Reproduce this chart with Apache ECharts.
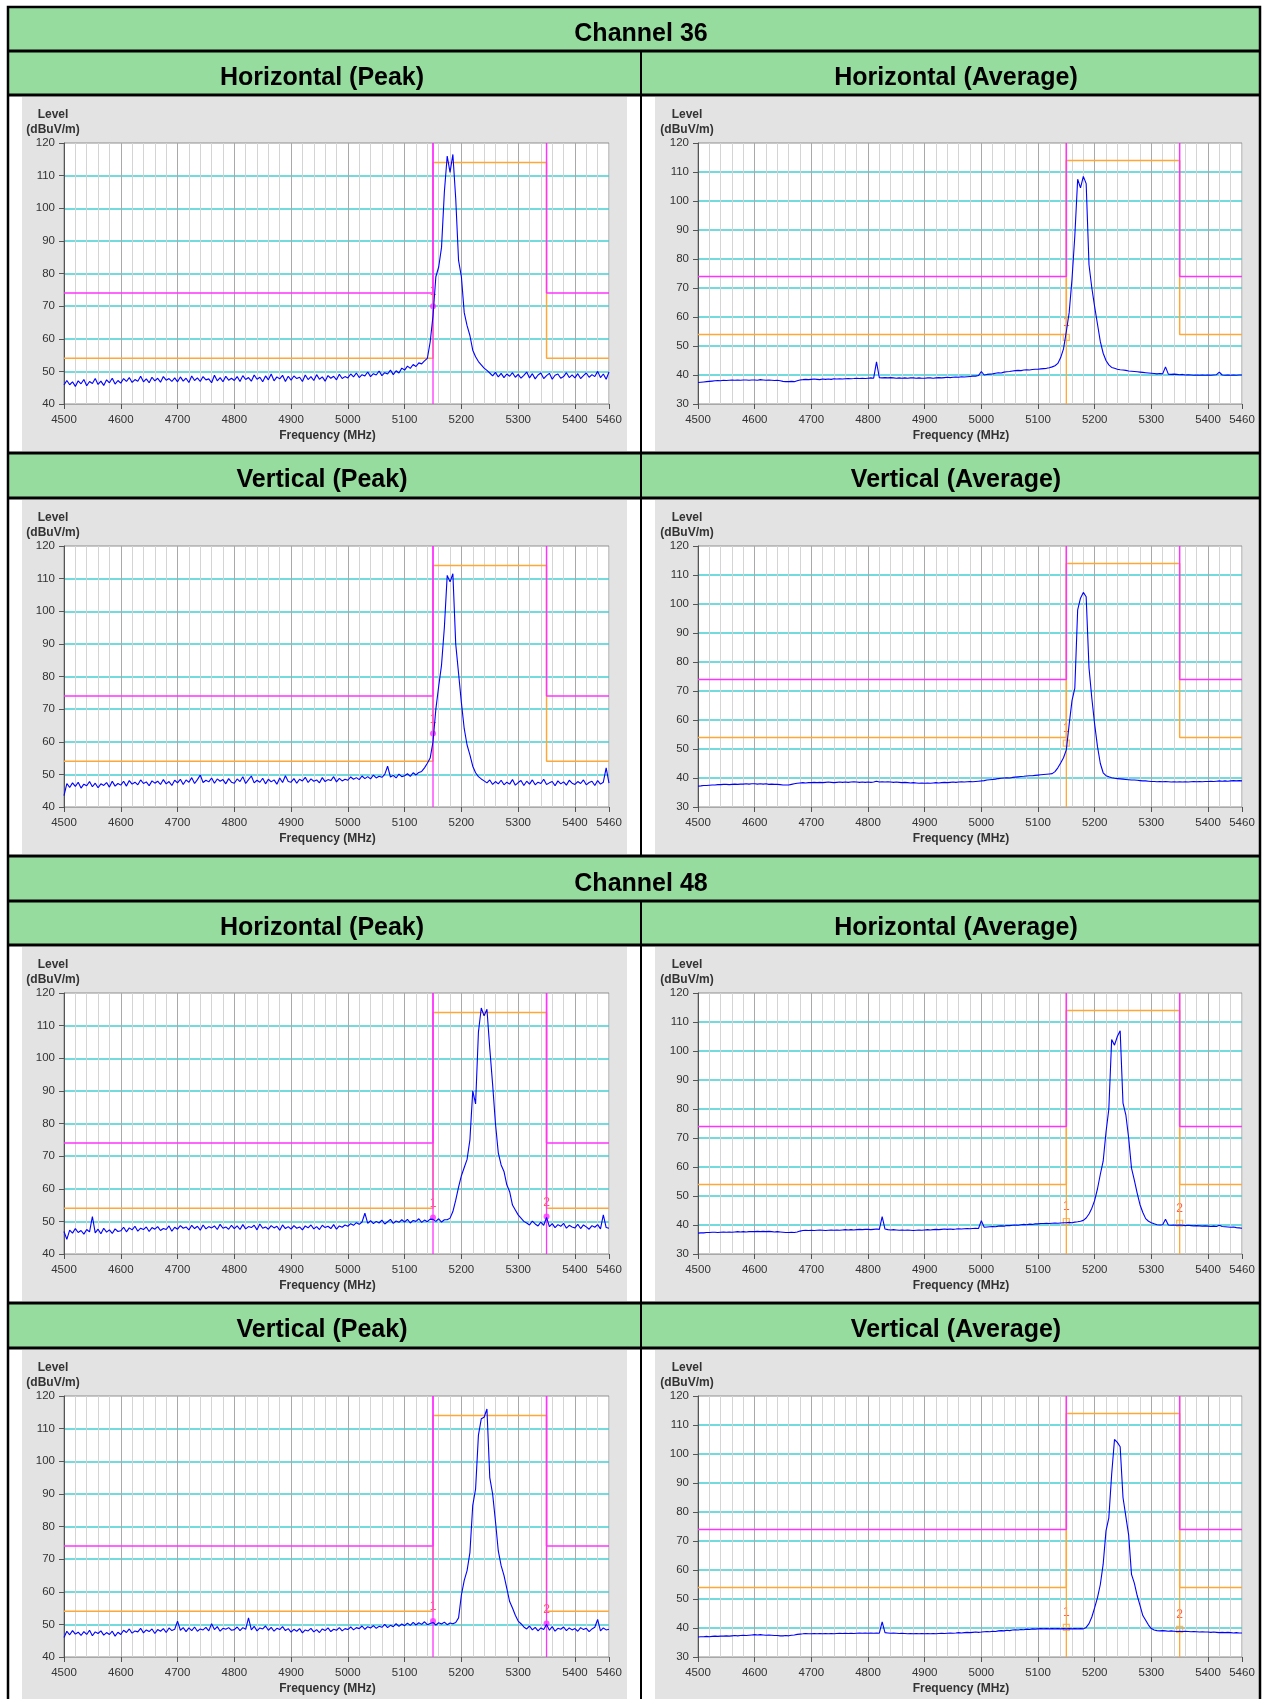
<!DOCTYPE html>
<html>
<head>
<meta charset="utf-8">
<title>Band edge plots - Channel 36 / Channel 48</title>
<script src="https://cdn.jsdelivr.net/npm/echarts@6.0.0/dist/echarts.min.js"></script>
<style>
html,body{margin:0;padding:0;background:#ffffff;}
#chart{width:1263px;height:1699px;}
</style>
</head>
<body>
<div id="chart"></div>
<script>
// ===================== DATA =====================
// Frequency sampling grid (MHz), 5 MHz steps
const FREQ = [
4500,4505,4510,4515,4520,4525,4530,4535,4540,4545,4550,4555,4560,4565,4570,4575,4580,4585,4590,4595,
4600,4605,4610,4615,4620,4625,4630,4635,4640,4645,4650,4655,4660,4665,4670,4675,4680,4685,4690,4695,
4700,4705,4710,4715,4720,4725,4730,4735,4740,4745,4750,4755,4760,4765,4770,4775,4780,4785,4790,4795,
4800,4805,4810,4815,4820,4825,4830,4835,4840,4845,4850,4855,4860,4865,4870,4875,4880,4885,4890,4895,
4900,4905,4910,4915,4920,4925,4930,4935,4940,4945,4950,4955,4960,4965,4970,4975,4980,4985,4990,4995,
5000,5005,5010,5015,5020,5025,5030,5035,5040,5045,5050,5055,5060,5065,5070,5075,5080,5085,5090,5095,
5100,5105,5110,5115,5120,5125,5130,5135,5140,5145,5150,5155,5160,5165,5170,5175,5180,5185,5190,5195,
5200,5205,5210,5215,5220,5225,5230,5235,5240,5245,5250,5255,5260,5265,5270,5275,5280,5285,5290,5295,
5300,5305,5310,5315,5320,5325,5330,5335,5340,5345,5350,5355,5360,5365,5370,5375,5380,5385,5390,5395,
5400,5405,5410,5415,5420,5425,5430,5435,5440,5445,5450,5455,5460
];

// Channel 36 - Horizontal (Peak), dBuV/m
const ch36HorPeak = [
45.8,47.2,45.9,46.8,45.4,47.1,46.2,47.5,45.6,46.9,46.3,47.8,46.0,47.0,45.7,47.4,46.5,47.9,46.1,47.2,
46.4,47.8,46.9,48.1,46.6,47.5,47.0,48.5,46.8,47.7,46.5,48.2,47.1,47.9,46.7,48.4,47.3,47.8,46.9,48.0,
46.8,48.3,47.0,47.9,46.6,48.6,47.2,48.0,46.9,48.4,47.4,47.7,46.5,48.8,47.1,48.1,46.8,48.5,47.3,47.9,
47.2,48.4,46.9,48.7,47.5,48.1,47.0,48.9,47.6,48.2,46.8,48.6,47.4,49.2,47.1,48.3,47.7,48.8,46.9,48.5,
47.3,48.6,47.8,48.2,46.9,48.9,47.5,48.4,47.2,49.0,47.6,48.3,47.0,48.7,47.9,48.5,47.4,49.1,47.8,48.4,
48.0,49.2,48.3,49.5,48.1,49.0,48.6,49.8,48.4,49.3,48.9,50.1,48.7,49.6,49.2,50.4,49.0,50.2,49.5,51.0,
50.4,51.6,50.9,52.1,51.5,52.6,52.3,53.2,54.0,59.0,67.0,79.0,82.0,88.0,105.0,116.0,111.0,116.5,103.0,84.0,
79.0,68.0,64.0,61.0,56.5,54.5,53.0,52.0,51.0,50.3,49.5,48.6,49.7,48.3,49.4,48.1,49.2,48.5,49.6,48.2,
49.1,47.9,48.8,49.8,48.0,49.3,47.7,48.9,49.5,47.8,48.7,49.4,47.6,48.8,49.2,47.9,48.4,49.6,48.1,48.9,
48.0,49.3,47.8,48.7,49.5,48.2,49.0,48.4,50.0,48.1,49.2,47.6,49.8
];

// Channel 36 - Horizontal (Average)
const ch36HorAvg = [
37.4,37.5,37.6,37.7,37.8,37.9,38.0,38.1,38.0,38.2,38.1,38.2,38.3,38.2,38.3,38.2,38.3,38.3,38.2,38.3,
38.3,38.2,38.4,38.3,38.2,38.3,38.2,38.1,38.2,38.0,37.8,37.7,37.7,37.8,37.7,38.0,38.3,38.4,38.5,38.4,
38.5,38.6,38.5,38.4,38.6,38.5,38.6,38.5,38.7,38.6,38.7,38.6,38.7,38.8,38.7,38.8,38.9,38.8,38.9,38.8,
38.9,39.0,38.9,44.5,39.1,39.0,39.1,39.0,39.1,39.0,38.9,39.0,38.9,39.0,38.9,39.0,39.0,38.9,39.0,38.9,
38.9,39.0,39.0,38.9,39.0,39.1,39.0,39.1,39.2,39.1,39.2,39.3,39.2,39.4,39.3,39.4,39.5,39.6,39.6,39.8,
41.2,40.0,40.2,40.3,40.4,40.6,40.8,40.7,41.0,41.1,41.2,41.4,41.5,41.6,41.5,41.7,41.8,41.7,41.9,42.0,
42.0,42.1,42.2,42.3,42.5,42.8,43.2,44.0,46.0,49.0,55.0,61.5,73.0,88.0,107.5,104.5,108.5,106.0,78.0,70.0,
63.5,57.5,51.5,47.5,45.0,43.5,42.6,42.3,42.0,41.8,41.7,41.6,41.4,41.3,41.2,41.1,41.0,40.9,40.8,40.7,
40.6,40.5,40.4,40.5,40.4,42.8,40.3,40.2,40.3,40.2,40.1,40.2,40.0,40.1,40.0,39.9,40.0,39.9,40.0,39.9,
40.0,39.9,40.0,40.1,41.0,40.0,39.9,40.0,39.9,40.0,39.9,40.0,40.0
];

// Channel 36 - Vertical (Peak)
const ch36VerPeak = [
43.5,47.2,46.0,47.4,46.3,47.6,45.8,47.0,46.5,47.8,46.2,47.3,45.9,47.1,46.6,47.5,46.1,47.9,46.4,47.2,
46.7,47.9,46.4,48.1,47.0,47.6,46.8,48.3,47.2,47.7,46.5,48.0,47.3,47.9,46.9,48.4,47.1,47.8,46.6,48.2,
47.4,48.5,46.9,48.3,47.6,49.0,47.2,48.4,49.8,47.5,48.2,47.7,48.9,47.3,48.6,47.9,48.4,47.1,48.7,47.6,
47.3,48.6,47.8,49.3,47.2,48.4,49.5,47.4,48.2,47.6,48.8,47.1,48.5,47.7,48.3,47.0,48.9,47.5,49.6,47.8,
47.6,48.7,47.3,48.5,48.0,49.1,47.5,48.6,47.9,48.3,47.4,49.0,47.8,48.4,48.1,49.3,47.7,48.8,48.0,48.5,
48.2,49.2,48.5,49.0,48.4,49.5,48.7,49.3,48.6,49.8,48.9,49.4,49.1,50.0,52.5,49.2,49.7,48.9,50.1,49.3,
49.6,50.2,49.4,50.5,49.8,50.6,50.9,52.0,53.4,55.0,60.0,70.0,77.0,83.5,95.0,111.0,109.0,111.5,90.0,81.0,
72.0,64.0,59.0,56.0,52.5,50.5,49.3,48.6,48.0,47.4,48.3,46.9,47.8,47.1,48.2,46.8,47.6,47.0,48.4,46.7,
47.5,48.1,46.6,47.9,47.0,48.3,46.8,47.6,47.2,48.5,46.9,47.4,47.8,46.5,48.0,47.1,47.7,46.7,48.2,47.3,
46.9,47.8,47.2,48.3,46.8,47.5,47.9,46.6,48.1,47.0,47.6,52.0,47.3
];

// Channel 36 - Vertical (Average)
const ch36VerAvg = [
37.2,37.3,37.4,37.4,37.5,37.6,37.6,37.7,37.7,37.8,37.8,37.7,37.8,37.9,37.8,37.9,37.9,38.0,37.9,38.0,
38.0,37.9,38.0,37.9,38.0,37.8,37.9,37.8,37.8,37.7,37.6,37.6,37.6,37.8,38.0,38.2,38.3,38.4,38.3,38.4,
38.4,38.5,38.4,38.5,38.4,38.5,38.6,38.5,38.4,38.5,38.6,38.5,38.6,38.5,38.6,38.7,38.6,38.5,38.6,38.5,
38.6,38.5,38.6,38.9,38.6,38.7,38.6,38.7,38.6,38.5,38.6,38.5,38.4,38.5,38.4,38.3,38.4,38.3,38.2,38.3,
38.2,38.3,38.2,38.3,38.4,38.3,38.4,38.5,38.4,38.5,38.6,38.5,38.6,38.7,38.6,38.7,38.8,38.7,38.8,38.9,
39.0,39.1,39.3,39.4,39.5,39.6,39.8,39.9,40.0,40.1,40.0,40.2,40.3,40.4,40.5,40.6,40.7,40.8,40.8,40.9,
41.0,41.1,41.2,41.3,41.4,41.5,42.2,43.5,45.2,47.0,49.7,58.5,66.7,71.0,98.0,102.0,104.0,102.5,78.0,67.5,
58.5,50.8,45.0,41.8,40.8,40.4,40.1,39.9,39.8,39.7,39.6,39.5,39.4,39.3,39.3,39.2,39.1,39.0,39.0,38.9,
38.8,38.8,38.7,38.8,38.7,38.8,38.7,38.6,38.7,38.6,38.7,38.6,38.7,38.6,38.7,38.8,38.7,38.8,38.7,38.8,
38.8,38.9,38.8,38.9,39.0,38.9,39.0,38.9,39.0,39.1,39.0,39.1,39.0
];

// Channel 48 - Horizontal (Peak)
const ch48HorPeak = [
46.9,44.5,47.3,46.4,47.8,46.6,47.2,46.1,47.5,46.8,51.5,46.5,47.6,46.2,47.9,46.7,47.4,46.3,47.7,46.9,
47.1,48.2,46.8,48.0,47.4,48.5,47.0,47.9,47.5,48.3,46.9,48.1,47.6,48.4,47.2,47.8,47.5,48.6,47.0,48.2,
47.6,48.7,47.9,48.3,47.4,48.8,47.8,48.5,47.3,48.9,47.7,48.4,48.0,48.6,47.5,49.1,47.9,48.3,47.6,48.8,
47.8,48.6,47.5,49.0,47.7,48.4,48.1,48.8,47.4,49.2,47.9,48.3,47.6,48.7,48.0,48.5,47.3,48.9,47.8,48.4,
47.6,48.7,47.9,48.3,47.4,48.6,48.0,48.9,47.7,48.4,47.5,48.8,48.1,48.5,47.8,49.0,47.6,48.6,48.2,48.9,
48.5,49.3,48.8,49.6,49.1,49.8,52.5,49.4,50.2,49.3,50.0,49.5,50.4,49.2,49.9,50.6,49.4,50.1,49.7,50.5,
49.8,50.6,49.5,50.3,50.0,50.8,49.7,50.4,49.9,50.7,50.6,50.0,50.8,49.8,50.5,50.5,51.0,53.0,56.5,60.5,
64.0,66.5,69.0,75.0,90.0,86.0,108.0,115.4,113.0,115.0,103.0,92.0,80.0,71.0,67.3,65.3,61.2,59.1,55.0,53.5,
52.0,51.0,50.0,49.5,48.9,50.1,49.2,48.6,49.8,48.8,51.2,48.4,49.3,48.1,49.0,48.5,49.4,47.9,48.8,48.3,
48.0,49.1,47.8,48.9,48.3,47.6,48.7,48.2,49.0,47.7,52.0,48.1,47.9
];

// Channel 48 - Horizontal (Average)
const ch48HorAvg = [
37.2,37.3,37.3,37.4,37.4,37.5,37.5,37.4,37.5,37.6,37.5,37.6,37.5,37.6,37.7,37.6,37.7,37.6,37.7,37.7,
37.7,37.8,37.7,37.8,37.7,37.8,37.7,37.6,37.7,37.6,37.5,37.4,37.4,37.5,37.4,37.6,37.9,38.1,38.2,38.1,
38.2,38.1,38.2,38.3,38.2,38.1,38.2,38.3,38.2,38.3,38.2,38.3,38.4,38.3,38.4,38.3,38.4,38.5,38.4,38.5,
38.5,38.4,38.5,38.6,38.5,42.9,38.6,38.4,38.3,38.4,38.3,38.2,38.3,38.2,38.3,38.2,38.1,38.2,38.3,38.2,
38.3,38.4,38.3,38.4,38.5,38.4,38.5,38.6,38.5,38.6,38.5,38.6,38.7,38.6,38.7,38.8,38.7,38.8,38.9,38.8,
41.5,39.2,39.3,39.4,39.5,39.4,39.6,39.7,39.6,39.8,39.8,39.9,40.0,39.9,40.1,40.2,40.1,40.3,40.2,40.4,
40.4,40.5,40.5,40.6,40.5,40.6,40.7,40.6,40.7,40.8,40.8,40.9,40.8,41.0,41.1,41.3,41.6,42.4,43.8,45.8,
48.5,52.5,57.5,62.0,72.0,80.0,104.0,102.0,105.0,107.0,82.0,78.0,70.0,59.6,55.5,51.0,47.0,44.3,42.2,41.3,
40.8,40.4,40.1,40.0,40.1,42.0,40.0,39.9,40.0,39.9,40.0,39.9,39.8,39.9,39.8,39.7,39.8,39.7,39.6,39.7,
39.6,39.5,39.6,39.5,39.9,39.5,39.4,39.3,39.2,39.3,39.1,39.0,38.9
];

// Channel 48 - Vertical (Peak)
const ch48VerPeak = [
46.0,47.9,46.8,48.1,47.0,47.6,46.6,47.8,46.9,48.2,46.5,47.7,47.2,48.0,46.7,47.5,46.9,47.9,46.4,47.6,
46.9,48.2,47.5,48.6,47.3,48.0,47.7,48.8,47.4,48.3,47.8,48.6,47.2,48.4,47.9,48.7,47.5,48.9,48.1,48.5,
51.0,48.2,49.0,47.8,48.9,48.1,49.2,47.9,48.6,48.3,49.1,48.0,50.2,48.4,49.3,47.9,48.8,48.5,49.0,48.2,
48.4,49.2,48.1,49.0,48.5,52.0,48.3,49.4,48.0,48.9,48.6,49.5,48.2,49.1,47.9,48.8,48.4,49.3,48.1,48.7,
47.6,48.5,47.9,48.7,47.4,48.3,48.0,48.8,47.7,48.4,47.5,48.6,48.1,48.9,47.8,48.5,48.2,49.0,48.0,48.7,
48.4,49.2,48.3,49.0,48.7,49.5,48.5,49.3,48.9,49.6,48.8,49.4,49.1,50.0,49.0,49.7,49.3,50.2,49.4,50.1,
49.6,50.4,49.7,50.6,49.8,50.5,50.0,50.8,49.9,50.3,50.6,49.8,50.5,50.1,50.7,49.9,50.4,50.2,50.6,52.0,
59.0,63.5,66.5,72.0,86.5,91.5,108.0,113.0,113.5,116.0,95.0,90.0,81.6,72.5,68.0,65.0,61.0,57.0,55.0,52.8,
51.0,50.2,49.2,48.6,49.5,48.3,49.1,48.0,48.9,48.4,50.0,48.2,49.3,47.9,48.8,48.5,49.2,48.1,48.9,48.3,
48.7,47.9,49.0,48.4,48.8,47.8,48.6,49.1,51.5,48.0,48.9,48.3,48.5
];

// Channel 48 - Vertical (Average)
const ch48VerAvg = [
36.9,37.0,37.0,37.1,37.0,37.1,37.2,37.1,37.2,37.2,37.3,37.2,37.3,37.4,37.3,37.4,37.5,37.4,37.5,37.6,
37.7,37.6,37.7,37.6,37.5,37.6,37.5,37.4,37.4,37.3,37.3,37.4,37.3,37.5,37.6,37.8,37.9,38.0,38.1,38.0,
38.0,38.1,38.0,38.1,38.0,38.1,38.0,38.1,38.0,38.1,38.2,38.1,38.2,38.1,38.2,38.1,38.2,38.3,38.2,38.3,
38.2,38.3,38.2,38.3,38.2,42.1,38.4,38.3,38.2,38.3,38.2,38.1,38.2,38.1,38.0,38.1,38.0,38.1,38.0,38.1,
38.0,38.1,38.0,38.1,38.0,38.1,38.2,38.1,38.2,38.3,38.2,38.3,38.4,38.3,38.4,38.5,38.4,38.5,38.6,38.5,
38.6,38.7,38.8,38.7,38.9,38.8,39.0,39.1,39.0,39.2,39.1,39.3,39.4,39.3,39.5,39.4,39.6,39.5,39.7,39.6,
39.7,39.8,39.7,39.8,39.7,39.8,39.7,39.8,39.7,39.8,39.7,39.8,39.7,39.8,39.7,39.8,39.7,40.2,41.5,43.8,
47.0,50.5,55.0,62.0,73.5,78.0,93.0,105.0,104.0,102.5,85.0,78.5,72.0,58.5,55.5,51.2,47.8,44.3,42.7,41.0,
39.8,39.3,39.1,39.0,39.1,39.0,38.9,39.0,38.9,38.8,38.9,38.8,38.9,38.8,38.7,38.8,38.7,38.6,38.7,38.6,
38.6,38.5,38.6,38.5,38.4,38.5,38.4,38.5,38.4,38.3,38.4,38.3,38.3
];

// Markers [frequency MHz, level dBuV/m]
const mk36HorPeak = [[5150, 70.0]];
const mk36HorAvg  = [[5150, 53.0]];
const mk36VerPeak = [[5150, 62.5]];
const mk36VerAvg  = [[5150, 52.0]];
const mk48HorPeak = [[5150, 51.2], [5350, 51.5]];
const mk48HorAvg  = [[5150, 41.2], [5350, 40.6]];
const mk48VerPeak = [[5150, 51.0], [5350, 50.3]];
const mk48VerAvg  = [[5150, 40.2], [5350, 39.5]];

// Limit lines
const PEAK_LIMIT_LOW  = [[4500, 74], [5150, 74], [5150, 120]];
const PEAK_LIMIT_HIGH = [[5350, 120], [5350, 74], [5460, 74]];
const AVG_LIMIT = [[4500, 54], [5150, 54], [5150, 114], [5350, 114], [5350, 54], [5460, 54]];

// Axis ticks
const X_TICKS = [4500, 4600, 4700, 4800, 4900, 5000, 5100, 5200, 5300, 5400, 5460];
const Y_MIN_PEAK = 40, Y_MIN_AVG = 30, Y_MAX = 120;

// Titles
const CHANNEL_TITLES = ['Channel 36', 'Channel 48'];
const COLUMN_TITLES = [['Horizontal (Peak)', 'Horizontal (Average)'], ['Vertical (Peak)', 'Vertical (Average)']];

const PANELS = [
  {row: 0, col: 0, kind: 'peak', data: ch36HorPeak, markers: mk36HorPeak},
  {row: 0, col: 1, kind: 'avg',  data: ch36HorAvg,  markers: mk36HorAvg},
  {row: 1, col: 0, kind: 'peak', data: ch36VerPeak, markers: mk36VerPeak},
  {row: 1, col: 1, kind: 'avg',  data: ch36VerAvg,  markers: mk36VerAvg},
  {row: 2, col: 0, kind: 'peak', data: ch48HorPeak, markers: mk48HorPeak},
  {row: 2, col: 1, kind: 'avg',  data: ch48HorAvg,  markers: mk48HorAvg},
  {row: 3, col: 0, kind: 'peak', data: ch48VerPeak, markers: mk48VerPeak},
  {row: 3, col: 1, kind: 'avg',  data: ch48VerAvg,  markers: mk48VerAvg}
];

// ===================== STYLE / LAYOUT =====================
const FONT = '"Liberation Sans", Arial, Helvetica, sans-serif';
const BLUE = '#0000ff', MAGENTA = '#ff33ff', ORANGE = '#ffa838', CYAN = '#45cfd2', MARK_RED = '#ff3030';
const GREEN = '#96dc9e', PANEL_BG = '#e3e3e3';
const V_GRID_COLORS = ['#a9a9a9', '#d4d4d4', '#d4d4d4', '#d4d4d4', '#d4d4d4'];

const TABLE_L = 8, TABLE_R = 1260, COL_SPLIT = 641;
const ROW_TOPS = [95, 498, 945, 1348];
const PLOT_LEFT = [64, 698], PLOT_WIDTH = [545, 544];
const PLOT_OFFSET = 48, PLOT_HEIGHT = 261;
const PANEL_LEFT = [22, 655], PANEL_WIDTH = [605, 604];

// header bands: [top, height, titles with centre x]
const HEADERS = [
  {top: 7,    h: 44, cy: 34,   texts: [[CHANNEL_TITLES[0], 641]]},
  {top: 51,   h: 44, cy: 78,   texts: [[COLUMN_TITLES[0][0], 322], [COLUMN_TITLES[0][1], 956]]},
  {top: 453,  h: 45, cy: 480,  texts: [[COLUMN_TITLES[1][0], 322], [COLUMN_TITLES[1][1], 956]]},
  {top: 856,  h: 45, cy: 884,  texts: [[CHANNEL_TITLES[1], 641]]},
  {top: 901,  h: 44, cy: 928,  texts: [[COLUMN_TITLES[0][0], 322], [COLUMN_TITLES[0][1], 956]]},
  {top: 1303, h: 45, cy: 1330, texts: [[COLUMN_TITLES[1][0], 322], [COLUMN_TITLES[1][1], 956]]}
];
const H_RULES = [51, 95, 453, 498, 856, 901, 945, 1303, 1348];

// ===================== BUILD =====================
const elements = [];
HEADERS.forEach(h => {
  elements.push({type: 'rect', z: -20, silent: true,
    shape: {x: TABLE_L, y: h.top, width: TABLE_R - TABLE_L, height: h.h}, style: {fill: GREEN}});
});
ROW_TOPS.forEach(t => {
  [0, 1].forEach(c => {
    elements.push({type: 'rect', z: -20, silent: true,
      shape: {x: PANEL_LEFT[c], y: t + 2, width: PANEL_WIDTH[c], height: 354}, style: {fill: PANEL_BG}});
  });
});
H_RULES.forEach(y => {
  elements.push({type: 'line', z: -15, silent: true,
    shape: {x1: TABLE_L, y1: y, x2: TABLE_R, y2: y}, style: {stroke: '#000', lineWidth: 3}});
});
elements.push({type: 'line', z: -15, silent: true,
  shape: {x1: COL_SPLIT, y1: 51, x2: COL_SPLIT, y2: 856}, style: {stroke: '#000', lineWidth: 2}});
elements.push({type: 'line', z: -15, silent: true,
  shape: {x1: COL_SPLIT, y1: 901, x2: COL_SPLIT, y2: 1699}, style: {stroke: '#000', lineWidth: 2}});
elements.push({type: 'rect', z: -15, silent: true,
  shape: {x: TABLE_L, y: 7, width: TABLE_R - TABLE_L, height: 1700},
  style: {fill: 'none', stroke: '#000', lineWidth: 2.5}});
HEADERS.forEach(h => {
  h.texts.forEach(([t, cx]) => {
    elements.push({type: 'text', z: -10, silent: true, x: cx, y: h.cy,
      style: {text: t, fill: '#000', fontSize: 25, fontWeight: 'bold', fontFamily: FONT,
              align: 'center', verticalAlign: 'middle', textAlign: 'center', textVerticalAlign: 'middle'}});
  });
});

const plainNumber = v => String(Math.round(v));

const grid = [], xAxis = [], yAxis = [], series = [];
PANELS.forEach((p, i) => {
  const top = ROW_TOPS[p.row] + PLOT_OFFSET;
  const yMin = p.kind === 'peak' ? Y_MIN_PEAK : Y_MIN_AVG;
  grid.push({left: PLOT_LEFT[p.col], top: top, width: PLOT_WIDTH[p.col], height: PLOT_HEIGHT,
    show: true, backgroundColor: '#ffffff', borderColor: '#8f8f8f', borderWidth: 1,
    containLabel: false, outerBoundsMode: 'none'});
  // axis A: 20 MHz grid lines
  xAxis.push({gridIndex: i, type: 'value', min: 4500, max: 5460, interval: 20, position: 'bottom',
    axisLine: {show: false, onZero: false}, axisTick: {show: false}, axisLabel: {show: false},
    splitLine: {show: true, lineStyle: {color: V_GRID_COLORS, width: 1}}});
  // axis B: ticks, labels, name
  xAxis.push({gridIndex: i, type: 'value', min: 4500, max: 5460, position: 'bottom',
    axisLine: {show: true, onZero: false, lineStyle: {color: '#a8a8a8', width: 1}},
    axisTick: {show: true, customValues: X_TICKS, length: 5, inside: false, lineStyle: {color: '#505050'}},
    axisLabel: {show: true, customValues: X_TICKS, formatter: plainNumber, fontSize: 11.5, color: '#333',
                margin: 10, fontFamily: FONT},
    splitLine: {show: false},
    name: 'Frequency (MHz)', nameLocation: 'middle', nameGap: 26, nameMoveOverlap: false,
    nameTextStyle: {fontSize: 12, fontWeight: 'bold', color: '#333', fontFamily: FONT,
                    verticalAlign: 'top', padding: [0, 18, 0, 0]}});
  yAxis.push({gridIndex: i, type: 'value', min: yMin, max: Y_MAX, interval: 10,
    axisLine: {show: true, onZero: false, lineStyle: {color: '#555', width: 1}},
    axisTick: {show: true, length: 5, inside: false, lineStyle: {color: '#555'}},
    axisLabel: {fontSize: 11.5, color: '#333', margin: 9, fontFamily: FONT, formatter: plainNumber},
    splitLine: {show: true, showMinLine: false, showMaxLine: false, lineStyle: {color: CYAN, width: 1.5}},
    name: 'Level\n(dBuV/m)', nameLocation: 'end', nameGap: 6, nameMoveOverlap: false,
    nameTextStyle: {fontSize: 12, fontWeight: 'bold', color: '#333', fontFamily: FONT, lineHeight: 15,
                    align: 'center', verticalAlign: 'bottom', padding: [0, 22, 0, 0]}});
  const xa = 2 * i, ya = i;
  const markerColor = p.kind === 'peak' ? MAGENTA : ORANGE;
  const base = {xAxisIndex: xa, yAxisIndex: ya, silent: true, animation: false};
  series.push(Object.assign({}, base, {type: 'line', data: AVG_LIMIT, showSymbol: false, symbol: 'none',
    lineStyle: {color: ORANGE, width: 1.5}}));
  p.markers.forEach(m => {
    series.push(Object.assign({}, base, {type: 'line', data: [[m[0], yMin], [m[0], Y_MAX]], symbol: 'none',
      lineStyle: {color: markerColor, width: 1.3}}));
  });
  series.push(Object.assign({}, base, {type: 'line', data: PEAK_LIMIT_LOW, symbol: 'none',
    lineStyle: {color: MAGENTA, width: 1.5}}));
  series.push(Object.assign({}, base, {type: 'line', data: PEAK_LIMIT_HIGH, symbol: 'none',
    lineStyle: {color: MAGENTA, width: 1.5}}));
  series.push(Object.assign({}, base, {type: 'line', symbol: 'none',
    data: FREQ.map((f, k) => [f, p.data[k]]),
    lineStyle: {color: BLUE, width: 1.1}}));
  series.push(Object.assign({}, base, {type: 'scatter',
    data: p.markers.map((m, k) => ({name: String(k + 1), value: m})),
    symbol: p.kind === 'peak' ? 'circle' : 'rect', symbolSize: 6,
    itemStyle: p.kind === 'peak' ? {color: MAGENTA} : {color: 'rgba(255,255,255,0)', borderColor: ORANGE, borderWidth: 1.2},
    label: {show: true, position: 'top', distance: 5, formatter: '{b}', color: MARK_RED, fontSize: 12, fontFamily: FONT}}));
});

const chart = echarts.init(document.getElementById('chart'), null, {renderer: 'canvas', width: 1263, height: 1699});
chart.setOption({
  animation: false,
  backgroundColor: '#ffffff',
  textStyle: {fontFamily: FONT},
  graphic: {elements: elements},
  grid: grid,
  xAxis: xAxis,
  yAxis: yAxis,
  series: series
});
</script>
</body>
</html>
